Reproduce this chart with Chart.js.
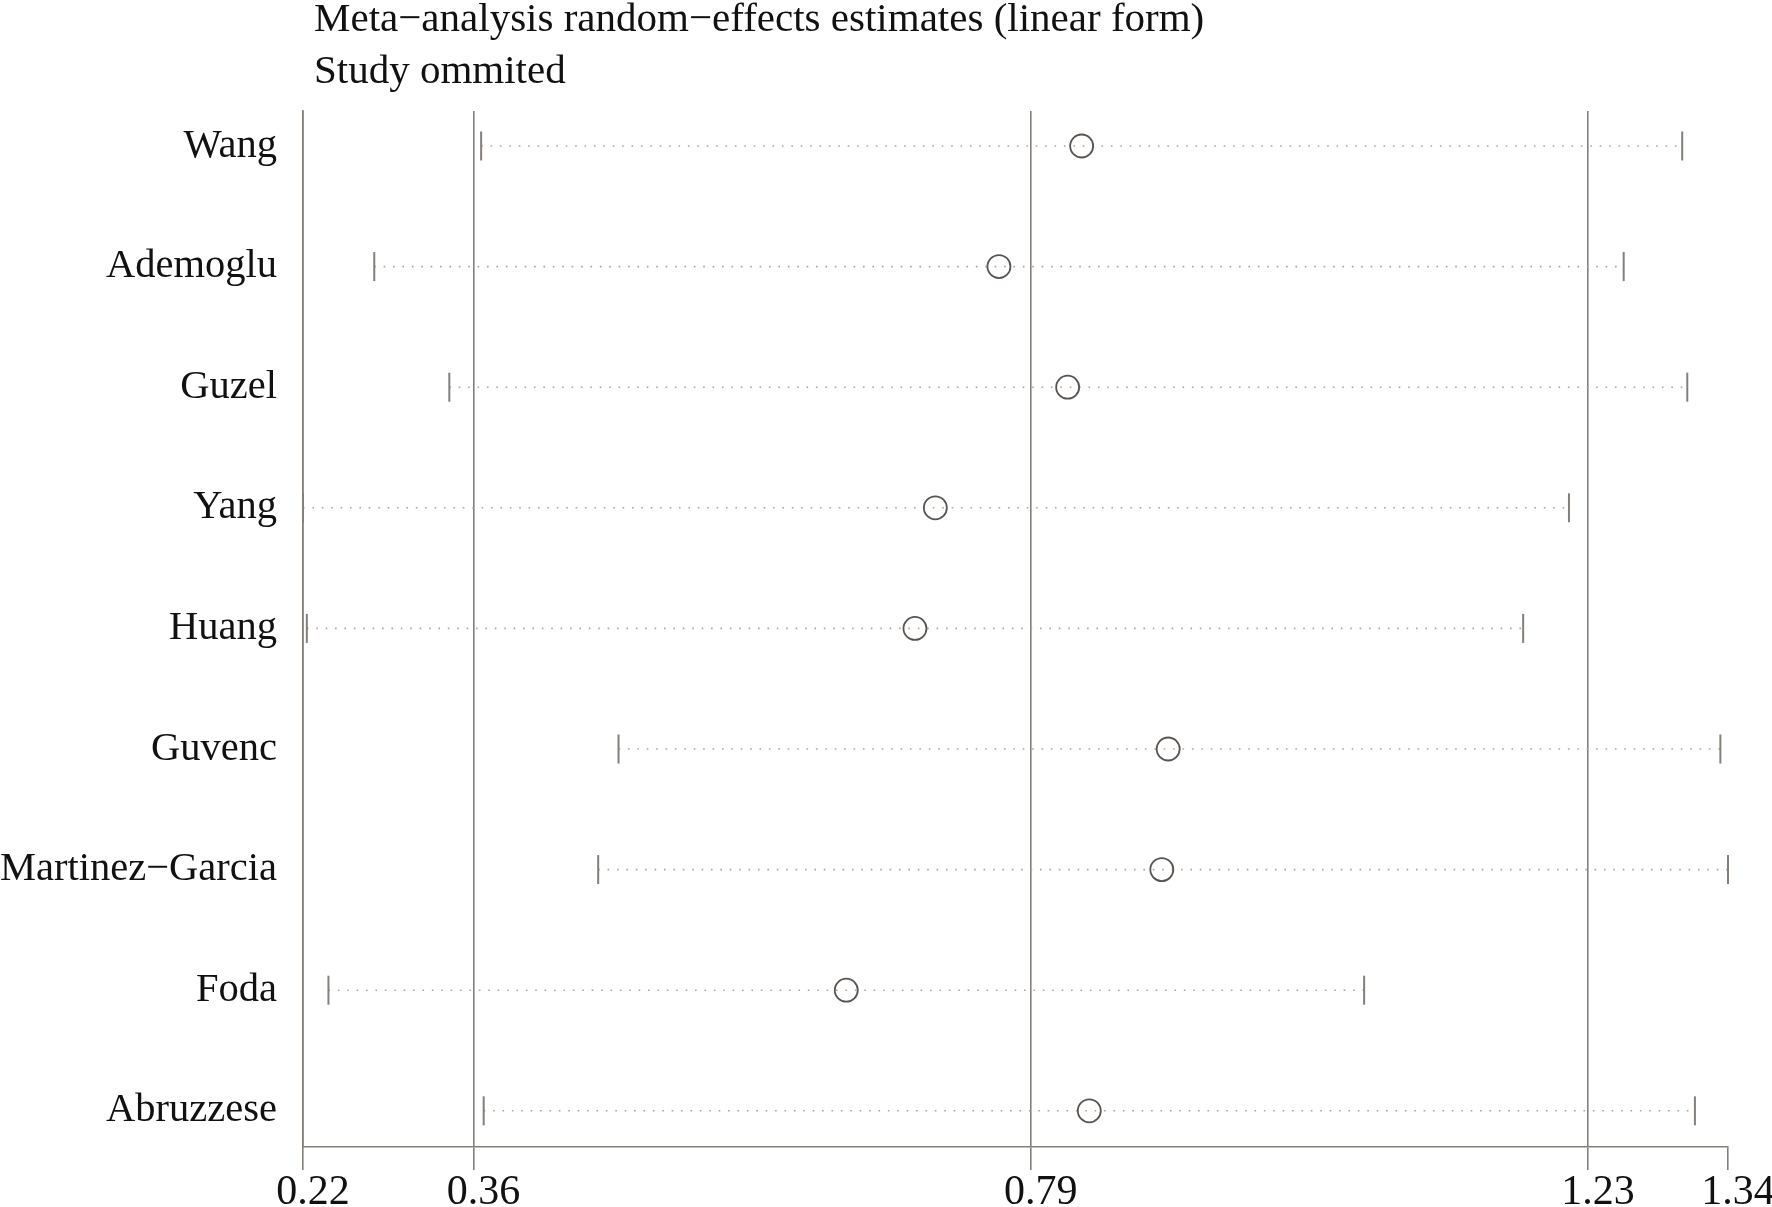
<!DOCTYPE html>
<html>
<head>
<meta charset="utf-8">
<script src="https://cdn.jsdelivr.net/npm/chart.js@4.4.1/dist/chart.umd.min.js"></script>
<style>
  html, body { margin: 0; padding: 0; background: #fff; }
  #wrap { width: 1772px; height: 1207px; }
</style>
</head>
<body>
<div id="wrap"><canvas id="infChart" width="1772" height="1207"></canvas></div>
<script>
// study omitted, in plot order (top to bottom)
const studies = ['Wang', 'Ademoglu', 'Guzel', 'Yang', 'Huang', 'Guvenc', 'Martinez\u2212Garcia', 'Foda', 'Abruzzese'];
const estimate = [0.832, 0.767, 0.821, 0.717, 0.701, 0.900, 0.895, 0.647, 0.838];
const lower = [0.360, 0.276, 0.335, 0.220, 0.223, 0.468, 0.452, 0.240, 0.362];
const upper = [1.304, 1.258, 1.308, 1.215, 1.179, 1.334, 1.340, 1.054, 1.314];

// x axis ticks (min, overall lower CI, estimate, upper CI, max)
const tickValues = [0.22, 0.354, 0.792, 1.230, 1.34];
const tickLabels = ['0.22', '0.36', '0.79', '1.23', '1.34'];

const titleLines = ['Meta\u2212analysis random\u2212effects estimates (linear form)', 'Study ommited'];

const FONT = '"Liberation Serif", "Times New Roman", serif';
const lineGrey = '#857f7a';

// title drawn left-aligned just inside the plot region
const titlePlugin = {
    id: 'leftTitle',
    afterDraw(chart) {
        const c = chart.ctx;
        c.save();
        c.font = '41px ' + FONT;
        c.fillStyle = '#111';
        c.textAlign = 'left';
        c.textBaseline = 'alphabetic';
        c.fillText(titleLines[0], chart.chartArea.left + 11, 31);
        c.fillText(titleLines[1], chart.chartArea.left + 11, 83);
        c.restore();
    }
};

const ciSets = studies.map((s, i) => ({
    type: 'line',
    label: s,
    data: [{ x: lower[i], y: i + 1 }, { x: upper[i], y: i + 1 }],
    borderColor: '#aaa49f',
    borderWidth: 1.6,
    borderDash: [1.6, 7.8],
    pointRadius: 0,
    clip: false
}));

const capPoints = [];
studies.forEach((s, i) => {
    capPoints.push({ x: lower[i], y: i + 1 });
    capPoints.push({ x: upper[i], y: i + 1 });
});

new Chart(document.getElementById('infChart'), {
    type: 'scatter',
    data: {
        datasets: [
            {
                label: 'estimate',
                data: estimate.map((v, i) => ({ x: v, y: i + 1 })),
                pointStyle: 'circle',
                pointRadius: 11.5,
                borderColor: '#5a5450',
                borderWidth: 1.8,
                backgroundColor: 'rgba(0,0,0,0)',
                clip: false
            },
            {
                label: 'ci limits',
                data: capPoints,
                pointStyle: 'line',
                rotation: 90,
                pointRadius: 14.5,
                borderColor: lineGrey,
                borderWidth: 2,
                clip: false
            },
            ...ciSets
        ]
    },
    options: {
        responsive: false,
        animation: false,
        devicePixelRatio: 1,
        layout: { padding: { top: 111, right: 44, left: 0, bottom: 0 } },
        plugins: {
            legend: { display: false },
            tooltip: { enabled: false },
            title: { display: false }
        },
        scales: {
            x: {
                type: 'linear',
                min: 0.22,
                max: 1.34,
                afterBuildTicks: axis => { axis.ticks = tickValues.map(v => ({ value: v })); },
                afterFit: axis => { axis.height = 60; },
                grid: {
                    color: ctx => (ctx.index === tickValues.length - 1 ? 'rgba(0,0,0,0)' : lineGrey),
                    tickColor: lineGrey,
                    lineWidth: 1.6,
                    tickLength: 23
                },
                border: { display: true, color: lineGrey, width: 1.6 },
                ticks: {
                    autoSkip: false,
                    maxRotation: 0,
                    padding: 1.5,
                    labelOffset: 10,
                    color: '#111',
                    font: { family: FONT, size: 42, lineHeight: 1 },
                    callback: (v, i) => tickLabels[i]
                }
            },
            y: {
                type: 'linear',
                reverse: true,
                min: 0.71,
                max: 9.3,
                afterBuildTicks: axis => { axis.ticks = studies.map((s, i) => ({ value: i + 1 })); },
                afterFit: axis => { axis.width = 303; },
                grid: { display: false, drawTicks: false },
                border: { display: true, color: lineGrey, width: 1.6 },
                ticks: {
                    autoSkip: false,
                    padding: 26,
                    color: '#111',
                    font: { family: FONT, size: 40.5 },
                    callback: v => studies[v - 1]
                }
            }
        }
    },
    plugins: [titlePlugin]
});
</script>
</body>
</html>
